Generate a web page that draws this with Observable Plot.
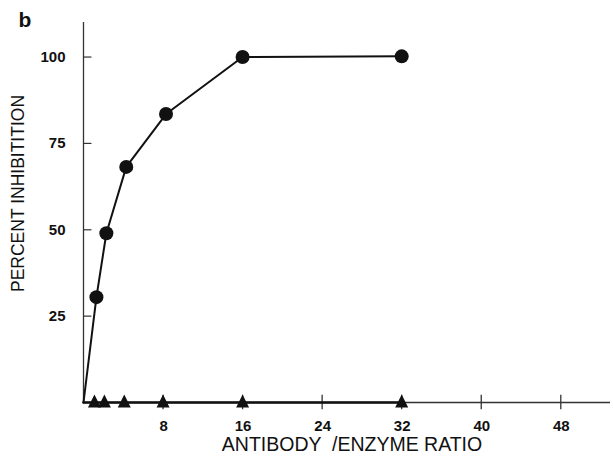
<!DOCTYPE html>
<html>
<head>
<meta charset="utf-8">
<script src="https://cdn.jsdelivr.net/npm/d3@7"></script>
<script src="https://cdn.jsdelivr.net/npm/@observablehq/plot@0.6"></script>
<style>
  html, body { margin: 0; padding: 0; background: white; }
</style>
</head>
<body>
<div id="chart"></div>
<script>
// Data
const circleRatio = [1.3, 2.3, 4.3, 8.3, 16, 32];
const circleInhibition = [30.5, 49, 68.2, 83.5, 100, 100.2];
const triangleRatio = [1.1, 2.1, 4.1, 8, 16, 32];
const triangleInhibition = [0, 0, 0, 0, 0, 0];
const originRatio = 0;
const originInhibition = 0;
const xTicks = [8, 16, 24, 32, 40, 48];
const yTicks = [25, 50, 75, 100];
const xLabel = "ANTIBODY  /ENZYME RATIO";
const yLabel = "PERCENT INHIBITITION";
const panelLabel = "b";

const circles = circleRatio.map((r, i) => ({ratio: r, inhibition: circleInhibition[i]}));
const triangles = triangleRatio.map((r, i) => ({ratio: r, inhibition: triangleInhibition[i]}));
const origin = {ratio: originRatio, inhibition: originInhibition};
const circleLine = [origin, ...circles];
const triangleLine = [origin, ...triangles];

const flatTriangle = {
  draw(ctx) {
    ctx.moveTo(0, -8);
    ctx.lineTo(6.5, 5);
    ctx.lineTo(-6.5, 5);
    ctx.closePath();
  }
};

const ink = "#111";
const font = "'Liberation Sans', Arial, Helvetica, sans-serif";

const chart = Plot.plot({
  width: 613,
  height: 464,
  marginLeft: 83,
  marginRight: 3,
  marginTop: 22,
  marginBottom: 62,
  x: {domain: [0, 53], axis: null},
  y: {domain: [0, 110], axis: null},
  style: {fontFamily: font, background: "white", color: ink},
  marks: [
    // axis lines
    Plot.ruleX([0], {y1: 0, y2: 110, stroke: "#333", strokeWidth: 1.3}),
    Plot.ruleY([0], {x1: 0, x2: 53, stroke: "#333", strokeWidth: 1.3}),
    // y ticks (inward)
    Plot.ruleY(yTicks, {y: d => d, x1: 0, x2: 0.85, stroke: "#333", strokeWidth: 1.2}),
    // x ticks (crossing)
    Plot.ruleX(xTicks, {x: d => d, y1: -2.1, y2: 2.1, stroke: "#333", strokeWidth: 1.3}),
    // tick labels
    Plot.text(yTicks, {x: 0, y: d => d, text: d => String(d), textAnchor: "end", lineAnchor: "middle", dx: -18, dy: 0,
      fontSize: 15, fontWeight: "bold", fill: ink, ariaLabel: "tick-label"}),
    Plot.text(xTicks, {x: d => d, y: 0, text: d => String(d), lineAnchor: "middle", dy: 24, dx: 0.5,
      fontSize: 15, fontWeight: "bold", fill: ink, ariaLabel: "tick-label"}),
    // series lines
    Plot.line(triangleLine, {x: "ratio", y: "inhibition", stroke: ink, strokeWidth: 2.5}),
    Plot.line(circleLine, {x: "ratio", y: "inhibition", stroke: ink, strokeWidth: 2}),
    // markers
    Plot.dot(circles, {x: "ratio", y: "inhibition", r: 7, fill: ink, stroke: "none"}),
    Plot.dot(triangles, {x: "ratio", y: "inhibition", r: 6, symbol: flatTriangle, fill: ink, stroke: "none"}),
    // axis titles
    Plot.text([xLabel], {frameAnchor: "bottom", text: d => d, textAnchor: "middle", lineAnchor: "middle",
      dx: 5, dy: 42, fontSize: 19.5, fill: ink}),
    Plot.text([yLabel], {frameAnchor: "left", text: d => d, rotate: -90, textAnchor: "middle", lineAnchor: "middle",
      dx: -65.5, dy: -19, fontSize: 17.5, fill: ink}),
    // panel label
    Plot.text([panelLabel], {frameAnchor: "top-left", text: d => d, textAnchor: "middle", lineAnchor: "middle",
      dx: -58.5, dy: -2, fontSize: 21, fontWeight: "bold", fill: ink})
  ]
});

d3.select(chart).selectAll('g[aria-label="tick-label"] text').style("letter-spacing", "1px");

document.getElementById("chart").appendChild(chart);
</script>
</body>
</html>
